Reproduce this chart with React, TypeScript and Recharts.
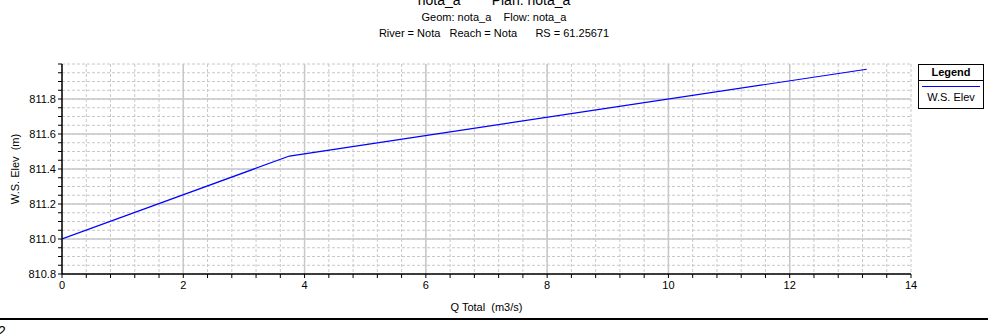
import React from 'react';
import { LineChart, Line, XAxis, YAxis, CartesianGrid, ReferenceLine } from 'recharts';

// HEC-RAS rating curve: W.S. Elev vs Q Total
const qTotal = [0, 3.75, 13.27];
const wsElev = [811.0, 811.474, 811.97];
const seriesName = 'W.S. Elev';

const xMinorTicks = Array.from({ length: 36 }, (_, i) => +(i * 0.4).toFixed(1));
const xMajor = [2, 4, 6, 8, 10, 12];
const yMinorTicks = Array.from({ length: 25 }, (_, i) => +(810.8 + i * 0.05).toFixed(2));
const yMajor = [811.0, 811.2, 811.4, 811.6, 811.8];

const data = qTotal.map((q, i) => ({ q, elev: wsElev[i] }));

const FONT = '"Liberation Sans", Arial, sans-serif';

const App: React.FC = () => {
  const txt: React.CSSProperties = {
    position: 'absolute',
    whiteSpace: 'pre',
    fontFamily: FONT,
    color: '#000',
    lineHeight: 1,
  };

  return (
    <div style={{ position: 'absolute', left: 0, top: 0, width: 988, height: 334, background: '#fff', overflow: 'hidden' }}>
      {/* titles */}
      <div style={{ ...txt, left: 0, width: 988, textAlign: 'center', top: -7, fontSize: 14 }}>nota_a        Plan: nota_a</div>
      <div style={{ ...txt, left: 0, width: 988, textAlign: 'center', top: 12, fontSize: 11 }}>Geom: nota_a    Flow: nota_a</div>
      <div style={{ ...txt, left: 0, width: 988, textAlign: 'center', top: 28, fontSize: 11 }}>River = Nota   Reach = Nota      RS = 61.25671</div>

      <LineChart width={988} height={334} data={data} margin={{ top: 64, right: 77, left: 2, bottom: 30 }}>
        <CartesianGrid stroke="#c8c8c8" strokeDasharray="3 2" strokeWidth={1} />
        {xMajor.map((v) => (
          <ReferenceLine key={`vx-${v}`} x={v} stroke="#c8c8c8" strokeWidth={1.5} />
        ))}
        {yMajor.map((v) => (
          <ReferenceLine key={`hy-${v}`} y={v} stroke="#c8c8c8" strokeWidth={1.5} />
        ))}
        <XAxis
          dataKey="q"
          type="number"
          domain={[0, 14]}
          ticks={xMinorTicks}
          interval={0}
          allowDataOverflow
          height={30}
          stroke="#000"
          axisLine={{ stroke: '#000', strokeWidth: 1.5 }}
          tickLine={{ stroke: '#000' }}
          tickSize={4}
          tickMargin={3}
          tick={{ fill: '#000', fontSize: 11, fontFamily: FONT }}
          tickFormatter={(v: number) => (Math.abs(v / 2 - Math.round(v / 2)) < 1e-6 ? String(v) : '')}
          label={{ value: 'Q Total\u00a0\u00a0(m3/s)', position: 'bottom', offset: -1, fill: '#000', fontSize: 11, fontFamily: FONT }}
        />
        <XAxis xAxisId="top" orientation="top" type="number" domain={[0, 14]} height={0} tick={false} tickLine={false} axisLine={{ stroke: '#000', strokeWidth: 1.5 }} />
        <YAxis
          type="number"
          domain={[810.8, 812.0]}
          ticks={yMinorTicks}
          interval={0}
          allowDataOverflow
          width={60}
          axisLine={{ stroke: '#000', strokeWidth: 1.5 }}
          tickLine={{ stroke: '#000' }}
          tickSize={4}
          tickMargin={2}
          tick={{ fill: '#000', fontSize: 11, fontFamily: FONT }}
          tickFormatter={(v: number) => {
            const k = (v - 810.8) / 0.2;
            return Math.abs(k - Math.round(k)) < 1e-6 && v < 811.95 ? v.toFixed(1) : '';
          }}
          label={{
            content: () => (
              <text x={15} y={169} transform="rotate(-90, 15, 169)" textAnchor="middle" dominantBaseline="central" fontSize={11} fontFamily={FONT} fill="#000">
                {'W.S. Elev\u00a0\u00a0(m)'}
              </text>
            ),
          }}
        />
        <YAxis yAxisId="right" orientation="right" type="number" domain={[810.8, 812.0]} width={0} tick={false} tickLine={false} axisLine={{ stroke: '#000', strokeWidth: 1.5 }} />
        <Line
          type="linear"
          dataKey="elev"
          name={seriesName}
          stroke="#0000ff"
          strokeWidth={1.2}
          dot={false}
          isAnimationActive={false}
        />
      </LineChart>

      {/* legend box */}
      <div style={{ position: 'absolute', left: 918, top: 64, width: 64, height: 43, border: '1px solid #000', fontFamily: FONT, fontSize: 11 }}>
        <div style={{ height: 15, borderBottom: '1px solid #000', textAlign: 'center', fontWeight: 'bold', lineHeight: '15px' }}>Legend</div>
        <div style={{ margin: '5px 3px 0 3px', height: 0, borderTop: '1.2px solid #0000ff' }} />
        <div style={{ textAlign: 'center', marginTop: 5, lineHeight: 1 }}>{seriesName}</div>
      </div>

      {/* page footer */}
      <div style={{ position: 'absolute', left: 0, top: 318, width: 988, height: 2, background: '#000' }} />
      <div style={{ ...txt, left: -2, top: 324, fontSize: 14 }}>2</div>
    </div>
  );
};

export default App;
